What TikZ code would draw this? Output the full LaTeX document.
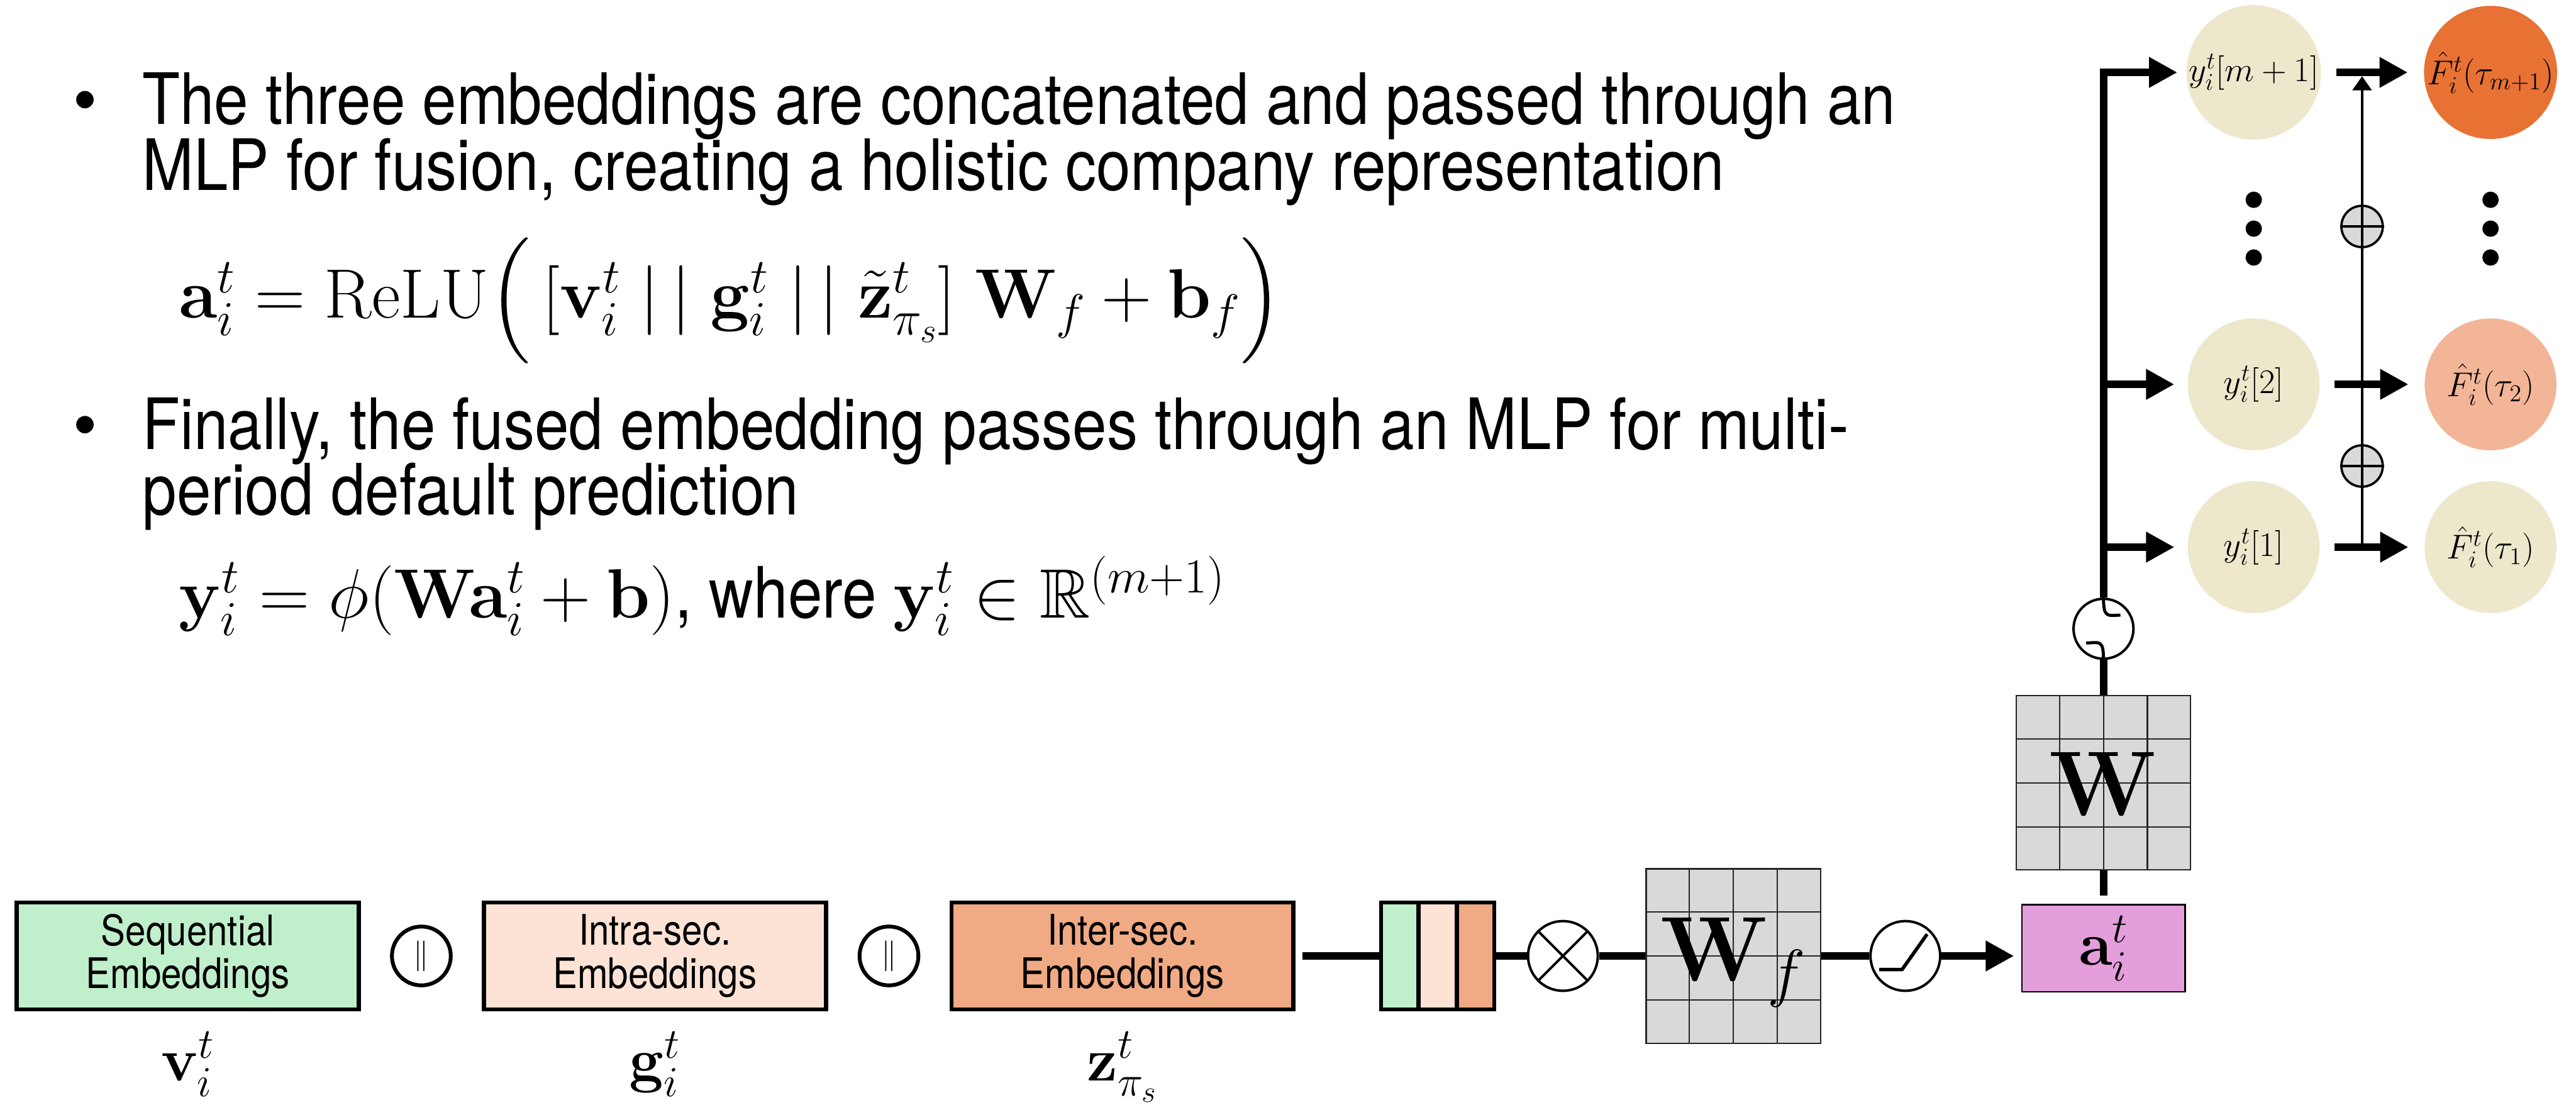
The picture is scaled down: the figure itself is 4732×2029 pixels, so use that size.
\RequirePackage{fix-cm}
\documentclass[tikz,border=0pt]{standalone}
\usepackage[no-math]{fontspec}
\setmainfont{TeX Gyre Heros}[FakeStretch=0.87]
\usepackage{amsmath,amssymb}
\usetikzlibrary{arrows.meta,calc}

\definecolor{seqgreen}{HTML}{C0EFCB}
\definecolor{intrapeach}{HTML}{FCE3D6}
\definecolor{interorange}{HTML}{F0AA84}
\definecolor{fusedpink}{HTML}{E39EDB}
\definecolor{gridgray}{HTML}{D9D9D9}
\definecolor{probbeige}{HTML}{EDE7CC}
\definecolor{probhigh}{HTML}{E87234}
\definecolor{probmid}{HTML}{F3B597}

\newcommand{\slidefont}{\fontsize{37}{37}\selectfont}
\newcommand{\eqfont}{\fontsize{36.5}{36.5}\selectfont}

\tikzset{
  conn/.style={line width=4pt},
  sumline/.style={line width=1.5pt},
  >={Triangle[length=0.52cm,width=0.53cm]},
  textline/.style={anchor=base west, inner sep=0pt, font=\slidefont},
  eqline/.style={anchor=base west, inner sep=0pt, font=\eqfont},
  bulletdot/.style={circle, fill=black, minimum size=0.32cm, inner sep=0pt},
  embbox/.style={draw, line width=2.2pt, minimum width=6.28cm, minimum height=1.96cm,
    inner sep=0pt, align=center, font=\fontsize{22}{22.5}\selectfont},
  stripbox/.style={draw, line width=2.2pt, minimum height=1.96cm, inner sep=0pt},
  catcirc/.style={circle, draw, line width=2pt, minimum size=1.08cm, inner sep=0pt,
    font=\fontsize{16}{16}\selectfont},
  opcirc/.style={circle, draw, line width=1.3pt, fill=white, minimum size=1.28cm, inner sep=0pt},
  gridbox/.style={draw=black!85, line width=0.7pt, fill=gridgray, minimum size=3.2cm, inner sep=0pt},
  gridline/.style={draw=black!85, line width=0.7pt},
  veclabel/.style={anchor=base, inner sep=0pt, font=\fontsize{32}{32}\selectfont},
  probnode/.style={circle, minimum size=2.42cm, inner sep=0pt, font=\fontsize{18}{18}\selectfont},
  sumcirc/.style={circle, draw, line width=1.2pt, fill=gridgray, minimum size=0.76cm, inner sep=0pt},
  vdot/.style={circle, fill=black, minimum size=0.3cm, inner sep=0pt},
}

\begin{document}
\begin{tikzpicture}[x=0.01cm, y=-0.01cm]
\useasboundingbox (0,0) rectangle (4732,2029);

% ---------- bullet text and equations ----------
\node[bulletdot] (b1) at (156,183) {};
\node[textline] (t1) at (261,228) {The three embeddings are concatenated and passed through an};
\node[textline] (t2) at (261,350) {MLP for fusion, creating a holistic company representation};
\node[eqline] (e1) at (328,584)
  {$\mathbf{a}_i^t = \mathrm{ReLU}\Big(\,[\mathbf{v}_i^t \;|\,|\; \mathbf{g}_i^t \;|\,|\; \tilde{\mathbf{z}}_{\pi_s}^t]\;\mathbf{W}_f + \mathbf{b}_f\Big)$};

\node[bulletdot] (b2) at (156,780) {};
\node[textline] (t3) at (261,825) {Finally, the fused embedding passes through an MLP for multi-};
\node[textline] (t4) at (261,946) {period default prediction};
\node[eqline] (e2) at (328,1135)
  {$\mathbf{y}_i^t = \phi(\mathbf{W}\mathbf{a}_i^t + \mathbf{b})${\slidefont, where }$\mathbf{y}_i^t \in \mathbb{R}^{(m+1)}$};

% ---------- embedding boxes ----------
\node[embbox, fill=seqgreen]    (seq)   at (345,1756)  {Sequential\\Embeddings};
\node[embbox, fill=intrapeach]  (intra) at (1203,1756) {Intra-sec.\\Embeddings};
\node[embbox, fill=interorange] (inter) at (2062,1756) {Inter-sec.\\Embeddings};
\node[catcirc] (cat1) at (774,1756)  {$\|$};
\node[catcirc] (cat2) at (1633,1756) {$\|$};

\node[veclabel] (lv) at (345,1985)  {$\mathbf{v}_i^t$};
\node[veclabel] (lg) at (1203,1985) {$\mathbf{g}_i^t$};
\node[veclabel] (lz) at (2062,1985) {$\mathbf{z}_{\pi_s}^t$};

% ---------- concatenated vector ----------
\node[stripbox, fill=seqgreen,    minimum width=0.69cm] (c1) at (2571.5,1756) {};
\node[stripbox, fill=intrapeach,  minimum width=0.70cm] (c2) at (2641,1756) {};
\node[stripbox, fill=interorange, minimum width=0.69cm] (c3) at (2710.5,1756) {};

% ---------- fusion MLP ----------
\node[opcirc] (ox) at (2871,1756) {};
\draw[line width=1.3pt] (ox.45) -- (ox.225) (ox.135) -- (ox.315);

\node[gridbox] (Wf) at (3184,1756) {};
\foreach \k in {1,2,3} {
  \draw[gridline] ($(Wf.north west)!\k/4!(Wf.north east)$) -- ($(Wf.south west)!\k/4!(Wf.south east)$);
  \draw[gridline] ($(Wf.north west)!\k/4!(Wf.south west)$) -- ($(Wf.north east)!\k/4!(Wf.south east)$);
}
\node[inner sep=0pt, font=\fontsize{48}{48}\selectfont] (Wflab) at (3184,1768) {$\mathbf{W}_f$};

\node[opcirc] (relu) at (3500,1756) {};
\draw[line width=1.8pt] ($(relu)+(-48,25)$) -- ($(relu)+(-6,25)$) -- ($(relu)+(40,-40)$);

\node[draw, line width=0.8pt, fill=fusedpink, minimum width=3.0cm, minimum height=1.6cm,
      inner sep=0pt, font=\fontsize{32}{32}\selectfont] (a) at (3864,1742) {$\mathbf{a}_i^t$};

\draw[conn, shorten <=0.12cm] (inter) -- (c1);
\draw[conn] (c3) -- (ox);
\draw[conn] (ox) -- (Wf);
\draw[conn] (Wf) -- (relu);
\draw[conn, ->, shorten >=0.13cm] (relu) -- (relu -| a.west);

% ---------- prediction MLP ----------
\node[gridbox] (W) at (3864,1438) {};
\foreach \k in {1,2,3} {
  \draw[gridline] ($(W.north west)!\k/4!(W.north east)$) -- ($(W.south west)!\k/4!(W.south east)$);
  \draw[gridline] ($(W.north west)!\k/4!(W.south west)$) -- ($(W.north east)!\k/4!(W.south east)$);
}
\node[inner sep=0pt, font=\fontsize{48}{48}\selectfont] (Wlab) at (3864,1440) {$\mathbf{W}$};

\node[opcirc, minimum size=1.1cm] (sg) at (3864,1155) {};
\draw[line width=1.6pt] ($(sg)+(-32,26)$) .. controls ($(sg)+(-8,26)$) and ($(sg)+(0,18)$) .. (sg)
  .. controls ($(sg)+(0,-18)$) and ($(sg)+(8,-25)$) .. ($(sg)+(31,-25)$);

\draw[conn, shorten <=0.16cm] (a) -- (W);
\draw[conn] (W) -- (sg);

% ---------- outputs ----------
\node[probnode, fill=probbeige] (y3) at (4140,133)  {$y_i^t[m+1]$};
\node[probnode, fill=probbeige] (y2) at (4140,706)  {$y_i^t[2]$};
\node[probnode, fill=probbeige] (y1) at (4140,1005) {$y_i^t[1]$};
\node[probnode, fill=probhigh]  (F3) at (4575,133)  {$\hat{F}_i^t(\tau_{m+1})$};
\node[probnode, fill=probmid]   (F2) at (4575,706)  {$\hat{F}_i^t(\tau_2)$};
\node[probnode, fill=probbeige] (F1) at (4575,1005) {$\hat{F}_i^t(\tau_1)$};

\foreach \yy [count=\n] in {367,420,473} {
  \node[vdot] (ydot\n) at (4140,\yy) {};
  \node[vdot] (Fdot\n) at (4575,\yy) {};
}

\draw[conn, ->, line join=miter, shorten >=0.16cm] (sg.north) |- (y3.west);
\draw[conn, ->, shorten >=0.24cm] (sg.north |- y2.west) -- (y2.west);
\draw[conn, ->, shorten >=0.24cm] (sg.north |- y1.west) -- (y1.west);

\draw[conn, ->, shorten <=0.27cm, shorten >=0.29cm] (y3) -- (F3);
\draw[conn, ->, shorten <=0.27cm, shorten >=0.29cm] (y2) -- (F2);
\draw[conn, ->, shorten <=0.27cm, shorten >=0.29cm] (y1) -- (F1);

% cumulative sum across horizons
\coordinate (csbot) at (4339,1005);
\coordinate (cstop) at (4339,140);
\draw[sumline, -{Triangle[length=0.26cm,width=0.35cm]}] (csbot) -- (cstop);
\node[sumcirc] (p2) at (4339,416) {};
\node[sumcirc] (p1) at (4339,856) {};
\draw[line width=1.2pt] (p1.north) -- (p1.south) (p1.west) -- (p1.east);
\draw[line width=1.2pt] (p2.north) -- (p2.south) (p2.west) -- (p2.east);
\end{tikzpicture}
\end{document}
